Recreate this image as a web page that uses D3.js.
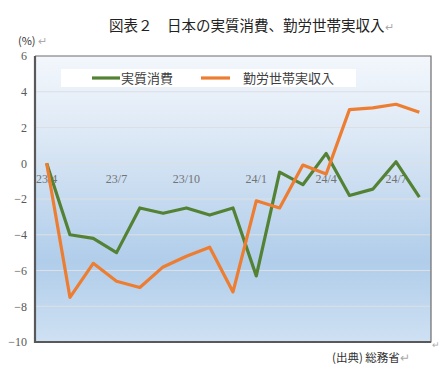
<!DOCTYPE html>
<html>
<head>
<meta charset="utf-8">
<script src="https://cdn.jsdelivr.net/npm/d3@7"></script>
<style>
  body { margin: 0; background: #fff; }
  svg { display: block; }
</style>
</head>
<body>
<svg id="chart" width="441" height="374"></svg>
<script>
// data
const months = ["23/4", "23/5", "23/6", "23/7", "23/8", "23/9", "23/10", "23/11", "23/12",
  "24/1", "24/2", "24/3", "24/4", "24/5", "24/6", "24/7", "24/8"];
const tickLabels = ["23/4", "23/7", "23/10", "24/1", "24/4", "24/7"];
const consumption = [0, -4.0, -4.2, -5.0, -2.5, -2.8, -2.5, -2.9, -2.5,
  -6.3, -0.5, -1.2, 0.55, -1.8, -1.45, 0.08, -1.9];
const income = [0, -7.5, -5.6, -6.6, -6.95, -5.8, -5.2, -4.7, -7.2,
  -2.1, -2.5, -0.1, -0.6, 3.0, 3.1, 3.3, 2.85];
const yTicks = [6, 4, 2, 0, -2, -4, -6, -8, -10];
const seriesNames = ["実質消費", "勤労世帯実収入"];

const cjk = "'Noto Sans CJK JP', sans-serif";
const plotLeft = 35, plotRight = 431, plotTop = 56, plotBottom = 342;

const svg = d3.select("#chart");

const defs = svg.append("defs");
const grad = defs.append("linearGradient")
  .attr("id", "bg").attr("x1", 0).attr("y1", 0).attr("x2", 0).attr("y2", 1);
grad.append("stop").attr("offset", "0%").attr("stop-color", "#f3f7fc");
grad.append("stop").attr("offset", "25%").attr("stop-color", "#dfeaf6");
grad.append("stop").attr("offset", "72%").attr("stop-color", "#b0cdea");
grad.append("stop").attr("offset", "100%").attr("stop-color", "#cfe1f3");

const x = d3.scaleBand().domain(months).range([plotLeft, plotRight]);
const y = d3.scaleLinear().domain([-10, 6]).range([plotBottom, plotTop]);

// plot background
svg.append("rect")
  .attr("x", plotLeft).attr("y", plotTop)
  .attr("width", plotRight - plotLeft).attr("height", plotBottom - plotTop)
  .attr("fill", "url(#bg)");

// gridlines
svg.append("g")
  .selectAll("line")
  .data(yTicks.filter(d => d != 6 && d != -10))
  .enter()
  .append("line")
  .attr("x1", plotLeft).attr("x2", plotRight)
  .attr("y1", d => y(d)).attr("y2", d => y(d))
  .attr("stroke", "#dcdfe3").attr("stroke-width", 1.2);

// y axis labels
const yAxis = svg.append("g")
  .attr("transform", `translate(${plotLeft},0)`)
  .call(d3.axisLeft(y).tickValues(yTicks).tickSize(0).tickPadding(8));
yAxis.select(".domain").remove();
yAxis.selectAll("text")
  .attr("fill", "#595959")
  .style("font-family", "'Liberation Serif', serif")
  .style("font-size", "12px");

// x axis labels at zero line
const xAxis = svg.append("g")
  .attr("transform", `translate(0,${y(0)})`)
  .call(d3.axisBottom(x).tickValues(tickLabels).tickSize(0).tickPadding(11));
xAxis.select(".domain").remove();
xAxis.selectAll("text")
  .attr("fill", "#737373")
  .style("font-family", "'Liberation Serif', serif")
  .style("font-size", "12px");

// plot border
svg.append("path")
  .attr("d", `M${plotLeft},${plotBottom}H${plotRight}V${plotTop}H${plotLeft}`)
  .attr("fill", "none").attr("stroke", "#6d6d6d").attr("stroke-width", 1.2);
svg.append("path")
  .attr("d", `M${plotLeft},${plotTop}V${plotBottom}H${plotRight}`)
  .attr("fill", "none").attr("stroke", "#595959").attr("stroke-width", 2.2);

// lines
const line = d3.line()
  .x((d, i) => x(months[i]) + x.bandwidth() / 2)
  .y(d => y(d));

svg.append("path")
  .datum(consumption)
  .attr("d", line)
  .attr("fill", "none").attr("stroke", "#548235").attr("stroke-width", 3.2)
  .attr("stroke-linejoin", "round");

svg.append("path")
  .datum(income)
  .attr("d", line)
  .attr("fill", "none").attr("stroke", "#ed7d31").attr("stroke-width", 3.2)
  .attr("stroke-linejoin", "round");

// legend
svg.append("rect")
  .attr("x", 61).attr("y", 69).attr("width", 295).attr("height", 18)
  .attr("fill", "#fff");
const legend = [
  { name: seriesNames[0], color: "#548235", x1: 92, x2: 120, tx: 121 },
  { name: seriesNames[1], color: "#ed7d31", x1: 201, x2: 230, tx: 243 }
];
const lg = svg.append("g").selectAll("g").data(legend).enter().append("g");
lg.append("line")
  .attr("x1", d => d.x1).attr("x2", d => d.x2)
  .attr("y1", 78).attr("y2", 78)
  .attr("stroke", d => d.color).attr("stroke-width", 3.2);
lg.append("text")
  .attr("x", d => d.tx).attr("y", 83)
  .text(d => d.name)
  .attr("fill", "#404040")
  .style("font-family", cjk).style("font-size", "13px");

// title and notes
const title = svg.append("text")
  .attr("x", 109).attr("y", 31)
  .style("font-family", cjk).style("font-size", "14.5px")
  .attr("fill", "#222");
title.append("tspan").text("図表２　日本の実質消費、勤労世帯実収入");
title.append("tspan").attr("fill", "#aaa").style("font-size", "11px").text("↵");

const unit = svg.append("text")
  .attr("x", 18).attr("y", 45)
  .style("font-family", cjk).style("font-size", "11px")
  .attr("fill", "#333");
unit.append("tspan").text("(%) ");
unit.append("tspan").attr("fill", "#aaa").text("↵");

const source = svg.append("text")
  .attr("x", 332).attr("y", 362)
  .style("font-family", cjk).style("font-size", "11.5px")
  .attr("fill", "#333");
source.append("tspan").text("(出典) 総務省");
source.append("tspan").attr("fill", "#aaa").text("↵");

svg.append("text")
  .attr("x", 432).attr("y", 348)
  .text("↵")
  .attr("fill", "#aaa")
  .style("font-family", cjk).style("font-size", "9px");
</script>
</body>
</html>
